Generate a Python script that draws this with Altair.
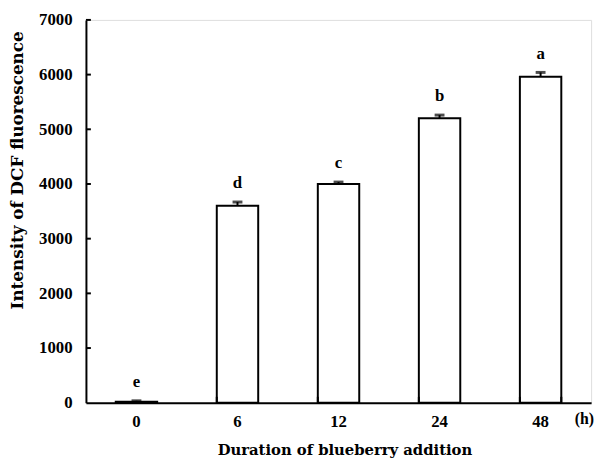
import altair as alt
import pandas as pd

hours = ["0", "6", "12", "24", "48"]
values = [20, 3600, 4000, 5200, 5960]
errors = [15, 70, 35, 60, 80]
letters = ["e", "d", "c", "b", "a"]
y_ticks = [1000, 2000, 3000, 4000, 5000, 6000, 7000]

df = pd.DataFrame({"h": hours, "v": values, "e": errors, "lab": letters})
df["top"] = df["v"] + df["e"]
tick_df = pd.DataFrame({"t": y_ticks})
sep_df = pd.DataFrame({"h": hours[1:]})

FONT = "Liberation Serif"
TFONT = "DejaVu Serif"
W, H = 512, 388

xscale = alt.Scale(domain=hours, paddingInner=0.59, paddingOuter=0.295)
yscale = alt.Scale(domain=[0, 7000])

x_axis = alt.Axis(title="Duration of blueberry addition", labelAngle=0, ticks=False,
                  labelPadding=11, titlePadding=13, titleX=262, labelFont=FONT, titleFont=TFONT,
                  labelFontSize=17, titleFontSize=15, labelFontWeight="bold",
                  titleFontWeight="bold", labelColor="black", titleColor="black",
                  domainColor="black", domainWidth=2)
y_axis = alt.Axis(title="Intensity of DCF fluorescence", values=[0] + y_ticks, ticks=False,
                  format="d", grid=False, labelPadding=14, titlePadding=12, titleY=152,
                  labelFont=FONT, titleFont=TFONT,
                  labelFontSize=17, titleFontSize=17, labelFontWeight="bold",
                  titleFontWeight="bold", labelColor="black", titleColor="black",
                  domainColor="black", domainWidth=2)

base = alt.Chart(df)

bars = base.mark_bar(fill="white", stroke="black", strokeWidth=2).encode(
    x=alt.X("h:N", scale=xscale, axis=x_axis, sort=hours),
    y=alt.Y("v:Q", scale=yscale, axis=y_axis),
)
err = base.mark_rule(color="black", strokeWidth=2).encode(
    x=alt.X("h:N", scale=xscale, sort=hours), y="v:Q", y2="top:Q")
caps = base.mark_tick(color="black", thickness=3, size=10, orient="horizontal").encode(
    x=alt.X("h:N", scale=xscale, sort=hours), y="top:Q")
labels = base.mark_text(font=FONT, fontSize=17, fontWeight="bold", baseline="bottom",
                        dy=-10, color="black").encode(
    x=alt.X("h:N", scale=xscale, sort=hours), y="top:Q", text="lab:N")

yt = alt.Chart(tick_df).mark_rule(color="black", strokeWidth=2).encode(
    y=alt.Y("t:Q", scale=yscale), x=alt.value(0), x2=alt.value(5))
xt = alt.Chart(sep_df).mark_rule(color="black", strokeWidth=2).encode(
    x=alt.X("h:N", scale=xscale, sort=hours, bandPosition=0),
    y=alt.value(H), y2=alt.value(H - 6))
xt_end = alt.Chart(pd.DataFrame({"h": [hours[-1]]})).mark_rule(color="black", strokeWidth=2).encode(
    x=alt.X("h:N", scale=xscale, sort=hours, bandPosition=1),
    y=alt.value(H), y2=alt.value(H - 6))
unit = alt.Chart(pd.DataFrame({"u": ["(h)"]})).mark_text(
    font=FONT, fontSize=16, fontWeight="bold", color="black", baseline="top", align="right").encode(
    x=alt.value(W + 3), y=alt.value(H + 9), text="u:N")

chart = alt.layer(bars, err, caps, labels, yt, xt, xt_end, unit).properties(
    width=W, height=H,
    autosize=alt.AutoSizeParams(type="none"),
    padding={"left": 79, "top": 9, "right": 8, "bottom": 58},
).configure_view(stroke=None).configure(background="white")

chart.save("out.html", embed_options={"renderer": "svg", "actions": False})
